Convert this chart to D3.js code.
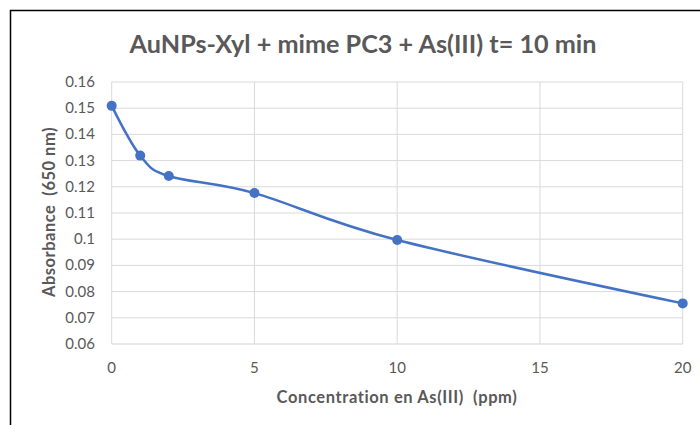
<!DOCTYPE html>
<html><head><meta charset="utf-8">
<script src="https://cdn.jsdelivr.net/npm/d3@7"></script>
<style>body{margin:0;background:#fff}svg{display:block}text{font-family:Lato,"Open Sans",sans-serif;white-space:pre}</style>
</head><body>
<svg id="c" width="700" height="425"></svg>
<script>
const concentrations = [0, 1, 2, 5, 10, 20];
const absorbance = [0.1509, 0.1319, 0.1241, 0.1176, 0.0997, 0.0755];
const xTicks = [0, 5, 10, 15, 20];
const yTicks = [0.06, 0.07, 0.08, 0.09, 0.1, 0.11, 0.12, 0.13, 0.14, 0.15, 0.16];
const title = "AuNPs-Xyl + mime PC3 + As(III) t= 10 min";
const xTitle = "Concentration en As(III)  (ppm)";
const yTitle = "Absorbance  (650 nm)";

const svg = d3.select("#c");
const x = d3.scaleLinear().domain([0, 20]).range([111.7, 682.7]);
const y = d3.scaleLinear().domain([0.06, 0.16]).range([344, 82]);

// frame
svg.append("path").attr("d", "M10.5,425 V10.5 H700").attr("fill", "none").attr("stroke", "#000").attr("stroke-width", 1.5);

// grid
svg.append("g").selectAll("line").data(yTicks).join("line")
  .attr("x1", x(0)).attr("x2", x(20)).attr("y1", d => y(d)).attr("y2", d => y(d))
  .attr("stroke", d => d === 0.06 ? "#d0d0d0" : "#d9d9d9").attr("stroke-width", 1);
svg.append("g").selectAll("line").data(xTicks).join("line")
  .attr("x1", d => x(d)).attr("x2", d => x(d)).attr("y1", y(0.06)).attr("y2", y(0.16))
  .attr("stroke", "#d9d9d9").attr("stroke-width", 1);

// tick labels
svg.append("g").selectAll("text").data(yTicks).join("text")
  .attr("x", 95).attr("y", d => y(d) + 5).attr("text-anchor", "end")
  .attr("font-size", 15).attr("fill", "#595959").text(d => String(+d.toFixed(2)));
svg.append("g").selectAll("text").data(xTicks).join("text")
  .attr("x", d => x(d)).attr("y", 373).attr("text-anchor", "middle")
  .attr("font-size", 15).attr("fill", "#595959").text(d => d);

// line
const pts = concentrations.map((c, i) => [c, absorbance[i]]);
svg.append("path").datum(pts)
  .attr("d", d3.line().x(d => x(d[0])).y(d => y(d[1])).curve(d3.curveCatmullRom.alpha(0)))
  .attr("fill", "none").attr("stroke", "#4472c4").attr("stroke-width", 2.5).attr("stroke-linecap", "round");
svg.append("g").selectAll("circle").data(pts).join("circle")
  .attr("cx", d => x(d[0])).attr("cy", d => y(d[1])).attr("r", 5).attr("fill", "#4472c4");

// titles
svg.append("text").attr("x", 363).attr("y", 53).attr("text-anchor", "middle")
  .attr("font-size", 25.2).attr("font-weight", "bold").attr("fill", "#595959").text(title);
svg.append("text").attr("x", 397).attr("y", 403).attr("text-anchor", "middle")
  .attr("font-size", 16.5).attr("letter-spacing", 0.6).attr("font-weight", "bold").attr("fill", "#595959").text(xTitle);
svg.append("text").attr("transform", "translate(55,212) rotate(-90)").attr("text-anchor", "middle")
  .attr("font-size", 16.5).attr("letter-spacing", 0.5).attr("font-weight", "bold").attr("fill", "#595959").text(yTitle);
</script>
</body></html>
